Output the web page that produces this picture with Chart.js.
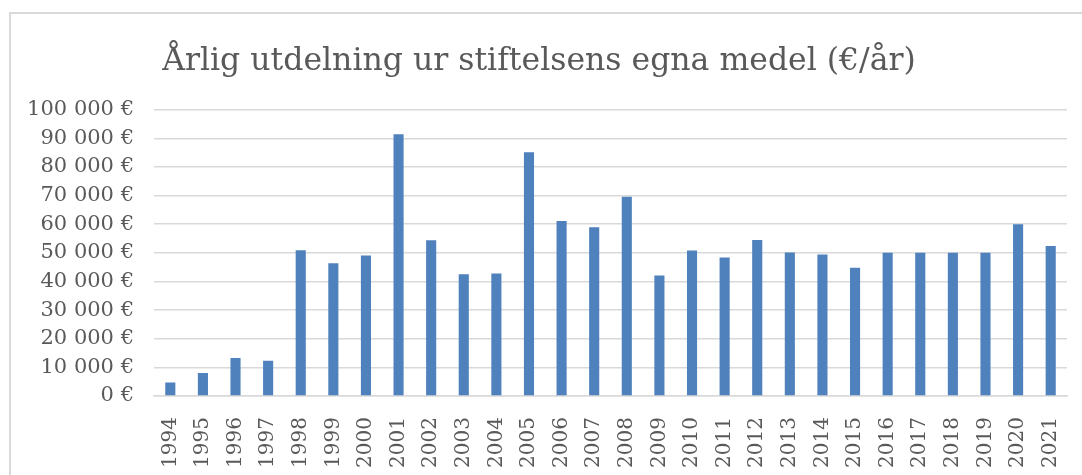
<!DOCTYPE html>
<html>
<head>
<meta charset="utf-8">
<script src="https://cdn.jsdelivr.net/npm/chart.js@4"></script>
<style>
  html, body { margin: 0; padding: 0; background: #fff; overflow: hidden; }
  #frame {
    position: absolute; left: 9px; top: 12px;
    width: 1090px; height: 500px;
    border: 2px solid #d9d9d9;
  }
  #wrap { position: absolute; left: 0; top: 0; width: 1071px; height: 461px; }
</style>
</head>
<body>
<div id="frame"><div id="wrap"><canvas id="grantChart"></canvas></div></div>
<script>
const years = ["1994","1995","1996","1997","1998","1999","2000","2001","2002","2003",
  "2004","2005","2006","2007","2008","2009","2010","2011","2012","2013",
  "2014","2015","2016","2017","2018","2019","2020","2021"];
const amounts = [4700, 8000, 13300, 12300, 50900, 46400, 49100, 91400, 54400, 42500,
  42800, 85100, 61100, 58900, 69600, 42100, 50800, 48400, 54500, 50100,
  49400, 44800, 50000, 50000, 50000, 50000, 60000, 52400];
const yTickLabels = ["0 €", "10 000 €", "20 000 €", "30 000 €", "40 000 €", "50 000 €",
  "60 000 €", "70 000 €", "80 000 €", "90 000 €", "100 000 €"];

const textColor = "#595959";
const serif = "'DejaVu Serif', serif";

const ctx = document.getElementById("grantChart");
new Chart(ctx, {
  type: "bar",
  data: {
    labels: years,
    datasets: [{
      label: "Utdelning",
      data: amounts,
      backgroundColor: "#4f81bd",
      borderWidth: 0,
      categoryPercentage: 0.31,
      barPercentage: 1,
    }],
  },
  options: {
    responsive: true,
    maintainAspectRatio: false,
    animation: false,
    layout: { padding: { left: 0, right: 15, top: 0, bottom: 0 } },
    plugins: {
      legend: { display: false },
      tooltip: { enabled: false },
      title: {
        display: true,
        text: "Årlig utdelning ur stiftelsens egna medel (€/år)",
        color: textColor,
        font: { family: serif, size: 31.5, weight: "normal" },
        padding: { top: 29, bottom: 28.9 },
      },
    },
    scales: {
      x: {
        grid: { display: false, drawTicks: false },
        border: { display: true, color: "#d9d9d9", width: 1.5 },
        ticks: {
          color: textColor,
          font: { family: serif, size: 20 },
          minRotation: 90,
          maxRotation: 90,
          autoSkip: false,
          padding: 21,
        },
        afterFit: function (scale) {
          scale.height = 79;
          scale.paddingLeft = 0;
          scale.paddingRight = 0;
        },
      },
      y: {
        min: 0,
        max: 100000,
        grid: { color: "#d9d9d9", lineWidth: 1.5, drawTicks: false },
        border: { display: false },
        ticks: {
          stepSize: 10000,
          color: textColor,
          font: { family: serif, size: 21 },
          padding: 20,
          callback: function (value, index) { return yTickLabels[index]; },
        },
        afterFit: function (scale) { scale.width = 143; },
      },
    },
  },
});
</script>
</body>
</html>
